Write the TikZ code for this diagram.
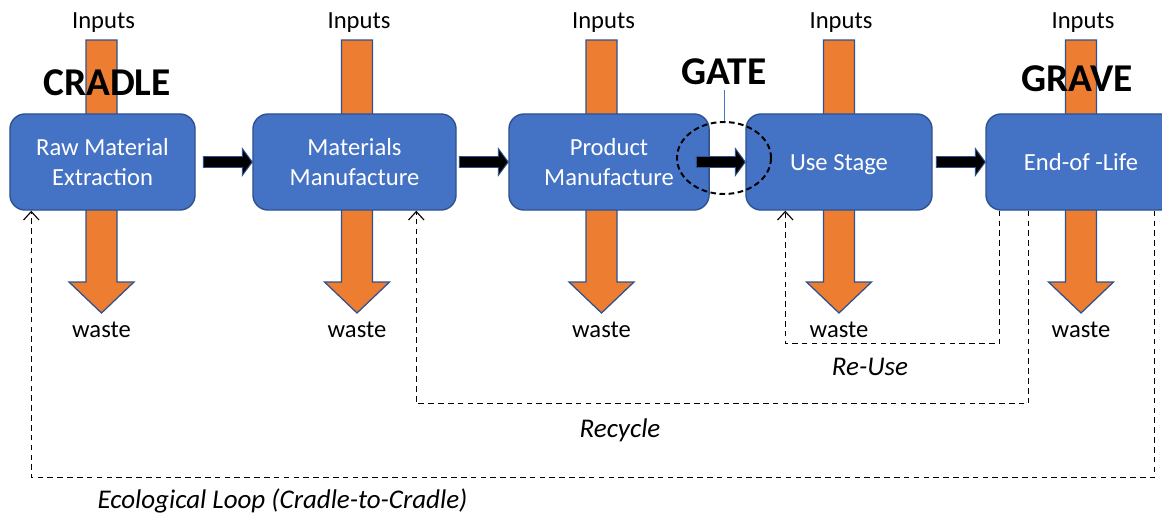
\documentclass[tikz,border=0pt]{standalone}
\usepackage{fontspec}
\setmainfont{Carlito}
\usetikzlibrary{calc,shapes.geometric,arrows.meta}
\definecolor{boxblue}{HTML}{4472C4}
\definecolor{edgeblue}{HTML}{2F528F}
\definecolor{flowor}{HTML}{ED7D31}
\begin{document}
\begin{tikzpicture}[x=0.025cm,y=-0.025cm,
  stage/.style={draw=edgeblue,line width=1pt,fill=boxblue,rounded corners=10.7pt,
    text=white,align=center,minimum height=68.3pt,inner sep=0pt,
    font=\fontsize{17.5}{21.3}\selectfont},
  oneline/.style={text height=1.35em,text depth=0.2em},
  flow/.style={draw=edgeblue,line width=0.9pt,fill=flowor},
  push/.style={draw=edgeblue,line width=0.7pt,fill=black},
  back/.style={dash pattern=on 4pt off 3pt,line width=0.8pt,
    -{Straight Barb[length=6pt,width=11pt]}},
  lbl/.style={font=\fontsize{17.5}{21.3}\selectfont},
  loopname/.style={font=\fontsize{19.2}{23}\selectfont\itshape},
  big/.style={font=\fontsize{28}{32}\selectfont\bfseries}]
\useasboundingbox (0,0) rectangle (1162,520);

% inputs coming down into each stage, waste leaving below
\foreach \x/\n in {101.5/1,357/2,601.5/3,839/4,1081/5}{
  \draw[flow] (\x-15.5,40) -- ++(31,0) -- ++(0,242) -- ++(17,0) -- ++(-32.5,31)
    -- ++(-32.5,-31) -- ++(17,0) -- cycle;
  \node[lbl] (in\n) at (\x+2,23) {Inputs};
  \node[lbl] (w\n) at (\x,330) {waste};
}

% life cycle stages
\node[stage,minimum width=131.6pt] (raw) at (102.5,162) {Raw Material\\Extraction};
\node[stage,minimum width=144.4pt] (mat) at (354.5,162) {Materials\\Manufacture};
\node[stage,minimum width=142.3pt] (prod) at (609,162) {Product\\Manufacture};
\node[stage,oneline,minimum width=132.3pt] (use) at (839,162) {Use Stage};
\node[stage,oneline,minimum width=135.1pt] (eol) at (1081,162) {End-of -Life};

\foreach \b in {mat,prod,use,eol}
  \draw[push] ($(\b.west)+(-49,-5.5)$) -- ++(39,0) -- ++(0,-8) -- (\b.west)
    -- ++(-10,13.5) -- ++(0,-8) -- ++(-39,0) -- cycle;

\node[big] (cradle) at (107,83) {CRADLE};
\node[big] (grave) at (1077,79) {GRAVE};
\node[big] (gate) at (724,72) {GATE};
\node[ellipse,draw,line width=1.4pt,dash pattern=on 4pt off 2.5pt,
  minimum width=66.9pt,minimum height=51.2pt,inner sep=0pt] (ring) at (724,158) {};
\draw[boxblue,line width=0.6pt] (gate.south) -- (ring.north);

% loops back from end-of-life
\draw[back] ($(eol.south west)+(14,0)$) -- ++(0,133) -| ($(use.south west)+(40,0)$);
\draw[back] ($(eol.south west)+(43,0)$) -- ++(0,193) -| ($(mat.south west)+(164,0)$);
\draw[back] ($(eol.south west)+(169,0)$) -- ++(0,267) -| ($(raw.south west)+(22,0)$);

\node[loopname] (reuse) at (870,367) {Re-Use};
\node[loopname] (recycle) at (620,430) {Recycle};
\node[loopname] (eco) at (282.5,501) {Ecological Loop (Cradle-to-Cradle)};
\end{tikzpicture}
\end{document}
